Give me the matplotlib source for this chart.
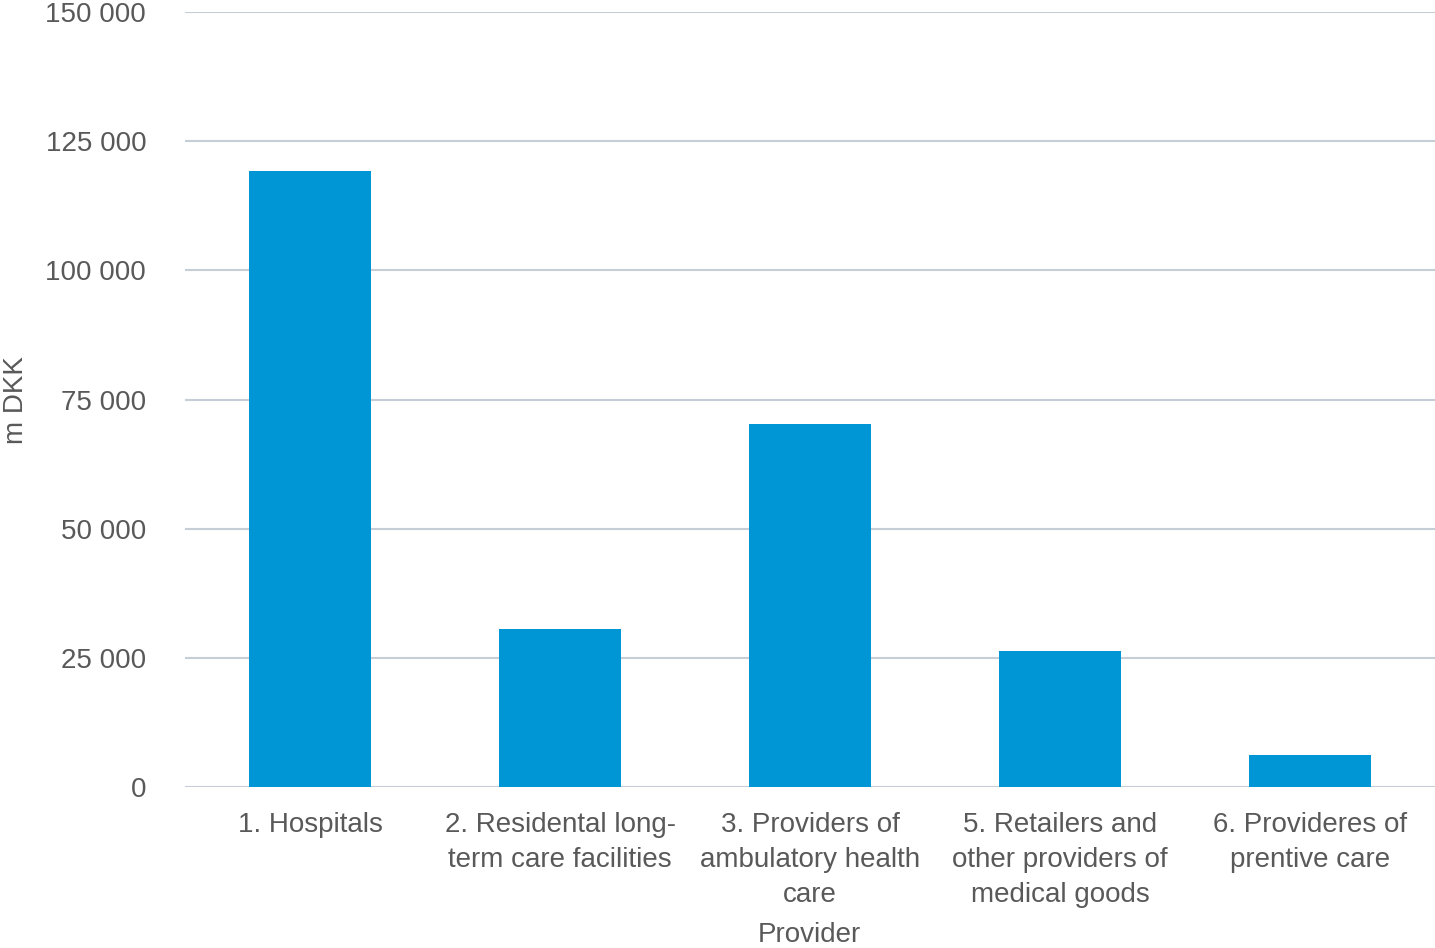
import matplotlib.pyplot as plt
from matplotlib.ticker import FuncFormatter

providers = ['1. Hospitals', '2. Residental long-\nterm care facilities',
             '3. Providers of\nambulatory health\ncare',
             '5. Retailers and\nother providers of\nmedical goods',
             '6. Provideres of\nprentive care']
spending = [119300, 30600, 70300, 26300, 6100]

plt.rcParams['font.family'] = ['Liberation Sans', 'DejaVu Sans']
grey = '#595959'

fig = plt.figure(figsize=(14.35, 9.48), dpi=100)
ax = fig.add_axes([0.129, 0.170, 0.871, 0.817])
ax.bar(range(len(providers)), spending, width=0.49, color='#0096D6', zorder=3)

ax.set_xlim(-0.5, len(providers) - 0.5)
ax.set_ylim(0, 150000)
ax.set_yticks(range(0, 150001, 25000))
ax.yaxis.set_major_formatter(FuncFormatter(lambda v, p: f'{int(v):,}'.replace(',', ' ')))
ax.set_xticks(range(len(providers)))
ax.set_xticklabels(providers, fontsize=20, color=grey, linespacing=1.45)
ax.tick_params(axis='y', labelsize=20, labelcolor=grey, length=0, pad=28)
ax.tick_params(axis='x', length=0, pad=18)
ax.grid(axis='y', color='#C5CED6', linewidth=1.5, zorder=0)
for s in ax.spines.values():
    s.set_visible(False)

fig.text(16 / 1435, 1 - 400 / 948, 'm DKK', fontsize=20, color=grey,
         rotation=90, ha='center', va='center')
fig.text(809 / 1435, 1 - 935 / 948, 'Provider', fontsize=20, color=grey,
         ha='center', va='center')

fig.savefig('out.png', dpi=100)
